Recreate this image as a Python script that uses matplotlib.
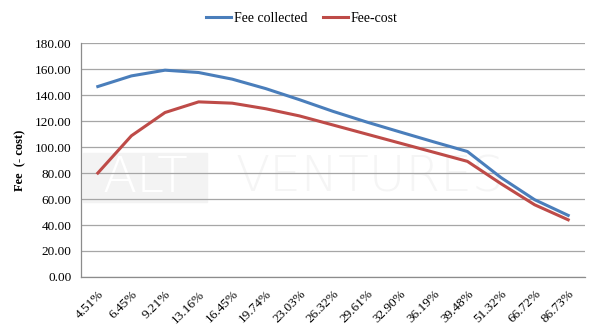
import matplotlib
matplotlib.use("Agg")
import matplotlib.pyplot as plt

categories = ["4.51%", "6.45%", "9.21%", "13.16%", "16.45%", "19.74%", "23.03%",
              "26.32%", "29.61%", "32.90%", "36.19%", "39.48%", "51.32%", "66.72%", "86.73%"]
fee_collected = [146.6, 154.8, 159.2, 157.4, 152.3, 145.0, 136.5,
                 127.5, 119.3, 111.6, 104.0, 96.6, 76.5, 59.5, 47.4]
fee_cost = [80.0, 108.7, 126.6, 134.8, 133.8, 129.5, 124.0,
            117.0, 110.0, 103.0, 96.0, 89.0, 71.8, 55.6, 44.0]
y_ticks = [0, 20, 40, 60, 80, 100, 120, 140, 160, 180]

serif = "Liberation Serif"
fig = plt.figure(figsize=(6.0, 3.27), dpi=100)
ax = fig.add_axes([0.135, 0.153, 0.84, 0.715])
ax.set_facecolor("none")

x = list(range(len(categories)))

# faint brand watermark behind the data
fig.patches.append(plt.Rectangle((83 / 600, 1 - 202 / 327), 124 / 600, 49 / 327,
                                 transform=fig.transFigure, color="#f3f3f3", zorder=-2))
fig.text(145 / 600, 1 - 178 / 327, "ALT", fontsize=36, color="white", ha="center",
         va="center", family="DejaVu Sans", fontweight="light", zorder=-1)
fig.text(370 / 600, 1 - 178 / 327, "VENTURES", fontsize=36, color="#f5f5f5", ha="center",
         va="center", family="DejaVu Sans", fontweight="light", zorder=-1)

ax.plot(x, fee_collected, color="#4a7ebb", lw=2.2, label="Fee collected", zorder=3)
ax.plot(x, fee_cost, color="#be4b48", lw=2.2, label="Fee-cost", zorder=3)

ax.set_xlim(-0.5, len(categories) - 0.5)
ax.set_ylim(0, 180)
ax.set_yticks(y_ticks)
ax.set_yticklabels([f"{v:.2f}" for v in y_ticks], fontsize=9.5, family=serif)
ax.set_xticks(x)
ax.set_xticklabels(categories, rotation=45, ha="right", rotation_mode="anchor",
                   fontsize=9.5, family=serif)
ax.tick_params(axis="both", length=0, pad=7)
ax.tick_params(axis="x", pad=8)

ax.grid(axis="y", color="#a6a6a6", lw=0.9)
ax.set_axisbelow(True)
for s in ["top", "right"]:
    ax.spines[s].set_visible(False)
for s in ["left", "bottom"]:
    ax.spines[s].set_color("#8c8c8c")
    ax.spines[s].set_linewidth(0.9)

ax.set_ylabel("Fee  (- cost)", fontsize=9, family=serif, fontweight="bold", labelpad=6)

ax.legend(loc="center", bbox_to_anchor=((302 - 81) / 504, 1 + 25 / 234), ncol=2,
          frameon=False, prop={"family": serif, "size": 10}, handlelength=1.8,
          handletextpad=0.2, columnspacing=1.1, borderpad=0)

fig.savefig("out.png", dpi=100)
